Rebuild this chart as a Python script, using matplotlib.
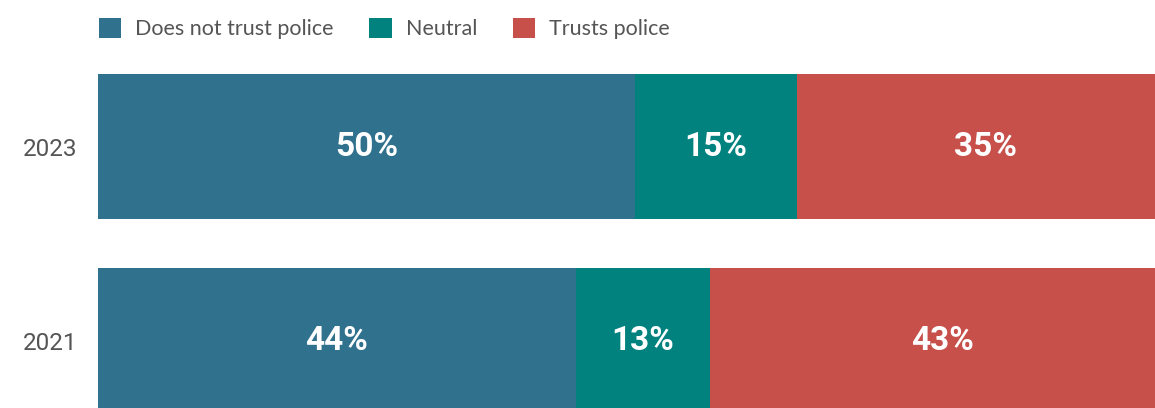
import matplotlib
matplotlib.use("Agg")
import matplotlib.pyplot as plt
import numpy as np

years = ["2021", "2023"]
categories = ["Does not trust police", "Neutral", "Trusts police"]
does_not_trust = [44.4, 49.9]
neutral = [12.5, 15.1]
trusts = [43.1, 35.0]
labels_dnt = ["44%", "50%"]
labels_neu = ["13%", "15%"]
labels_tru = ["43%", "35%"]

colors = ["#30718e", "#02827f", "#c7504a"]

W, H = 1155, 408
fig = plt.figure(figsize=(W / 100, H / 100), dpi=100)
plt.rcParams['font.family'] = ['Roboto', 'DejaVu Sans']

# axes placement in pixels
left_px, right_px = 98, 1174
y1_px, y0_px = 146.5, 340.5  # centers of 2023 and 2021 from top
unit = y0_px - y1_px
top_px = y1_px - 0.5 * unit
bot_px = y0_px + 0.5 * unit
ax = fig.add_axes([left_px / W, (H - bot_px) / H, (right_px - left_px) / W, (bot_px - top_px) / H])

y = np.arange(len(years))
series = [does_not_trust, neutral, trusts]
labels = [labels_dnt, labels_neu, labels_tru]
left = np.zeros(len(years))
handles = []
for vals, labs, col, name in zip(series, labels, colors, categories):
    bars = ax.barh(y, vals, left=left, height=0.747, color=col, label=name, linewidth=0)
    handles.append(bars)
    for yi, (v, l0, lab) in enumerate(zip(vals, left, labs)):
        ax.text(l0 + v / 2, yi, lab, ha='center', va='center', color='white',
                fontsize=24, fontweight='bold', family=['Roboto', 'DejaVu Sans'])
    left = left + np.array(vals)

ax.set_xlim(0, 100)
ax.set_ylim(-0.5, 1.5)
ax.set_yticks(y)
ax.set_yticklabels(years, fontsize=17.5, color='#555555')
ax.tick_params(axis='y', length=0, pad=14.5)
ax.set_xticks([])
for s in ax.spines.values():
    s.set_visible(False)

leg = fig.legend(handles=handles, labels=categories, loc='upper left',
                 bbox_to_anchor=(90 / W, 1 - 9 / H), ncol=3, frameon=False,
                 fontsize=15.5, handlelength=1.05, handleheight=1.05,
                 handletextpad=0.65, columnspacing=1.65, borderaxespad=0)
for t in leg.get_texts():
    t.set_color('#555555')
    t.set_family(['Lato', 'DejaVu Sans'])

fig.savefig("out.png", dpi=100)
